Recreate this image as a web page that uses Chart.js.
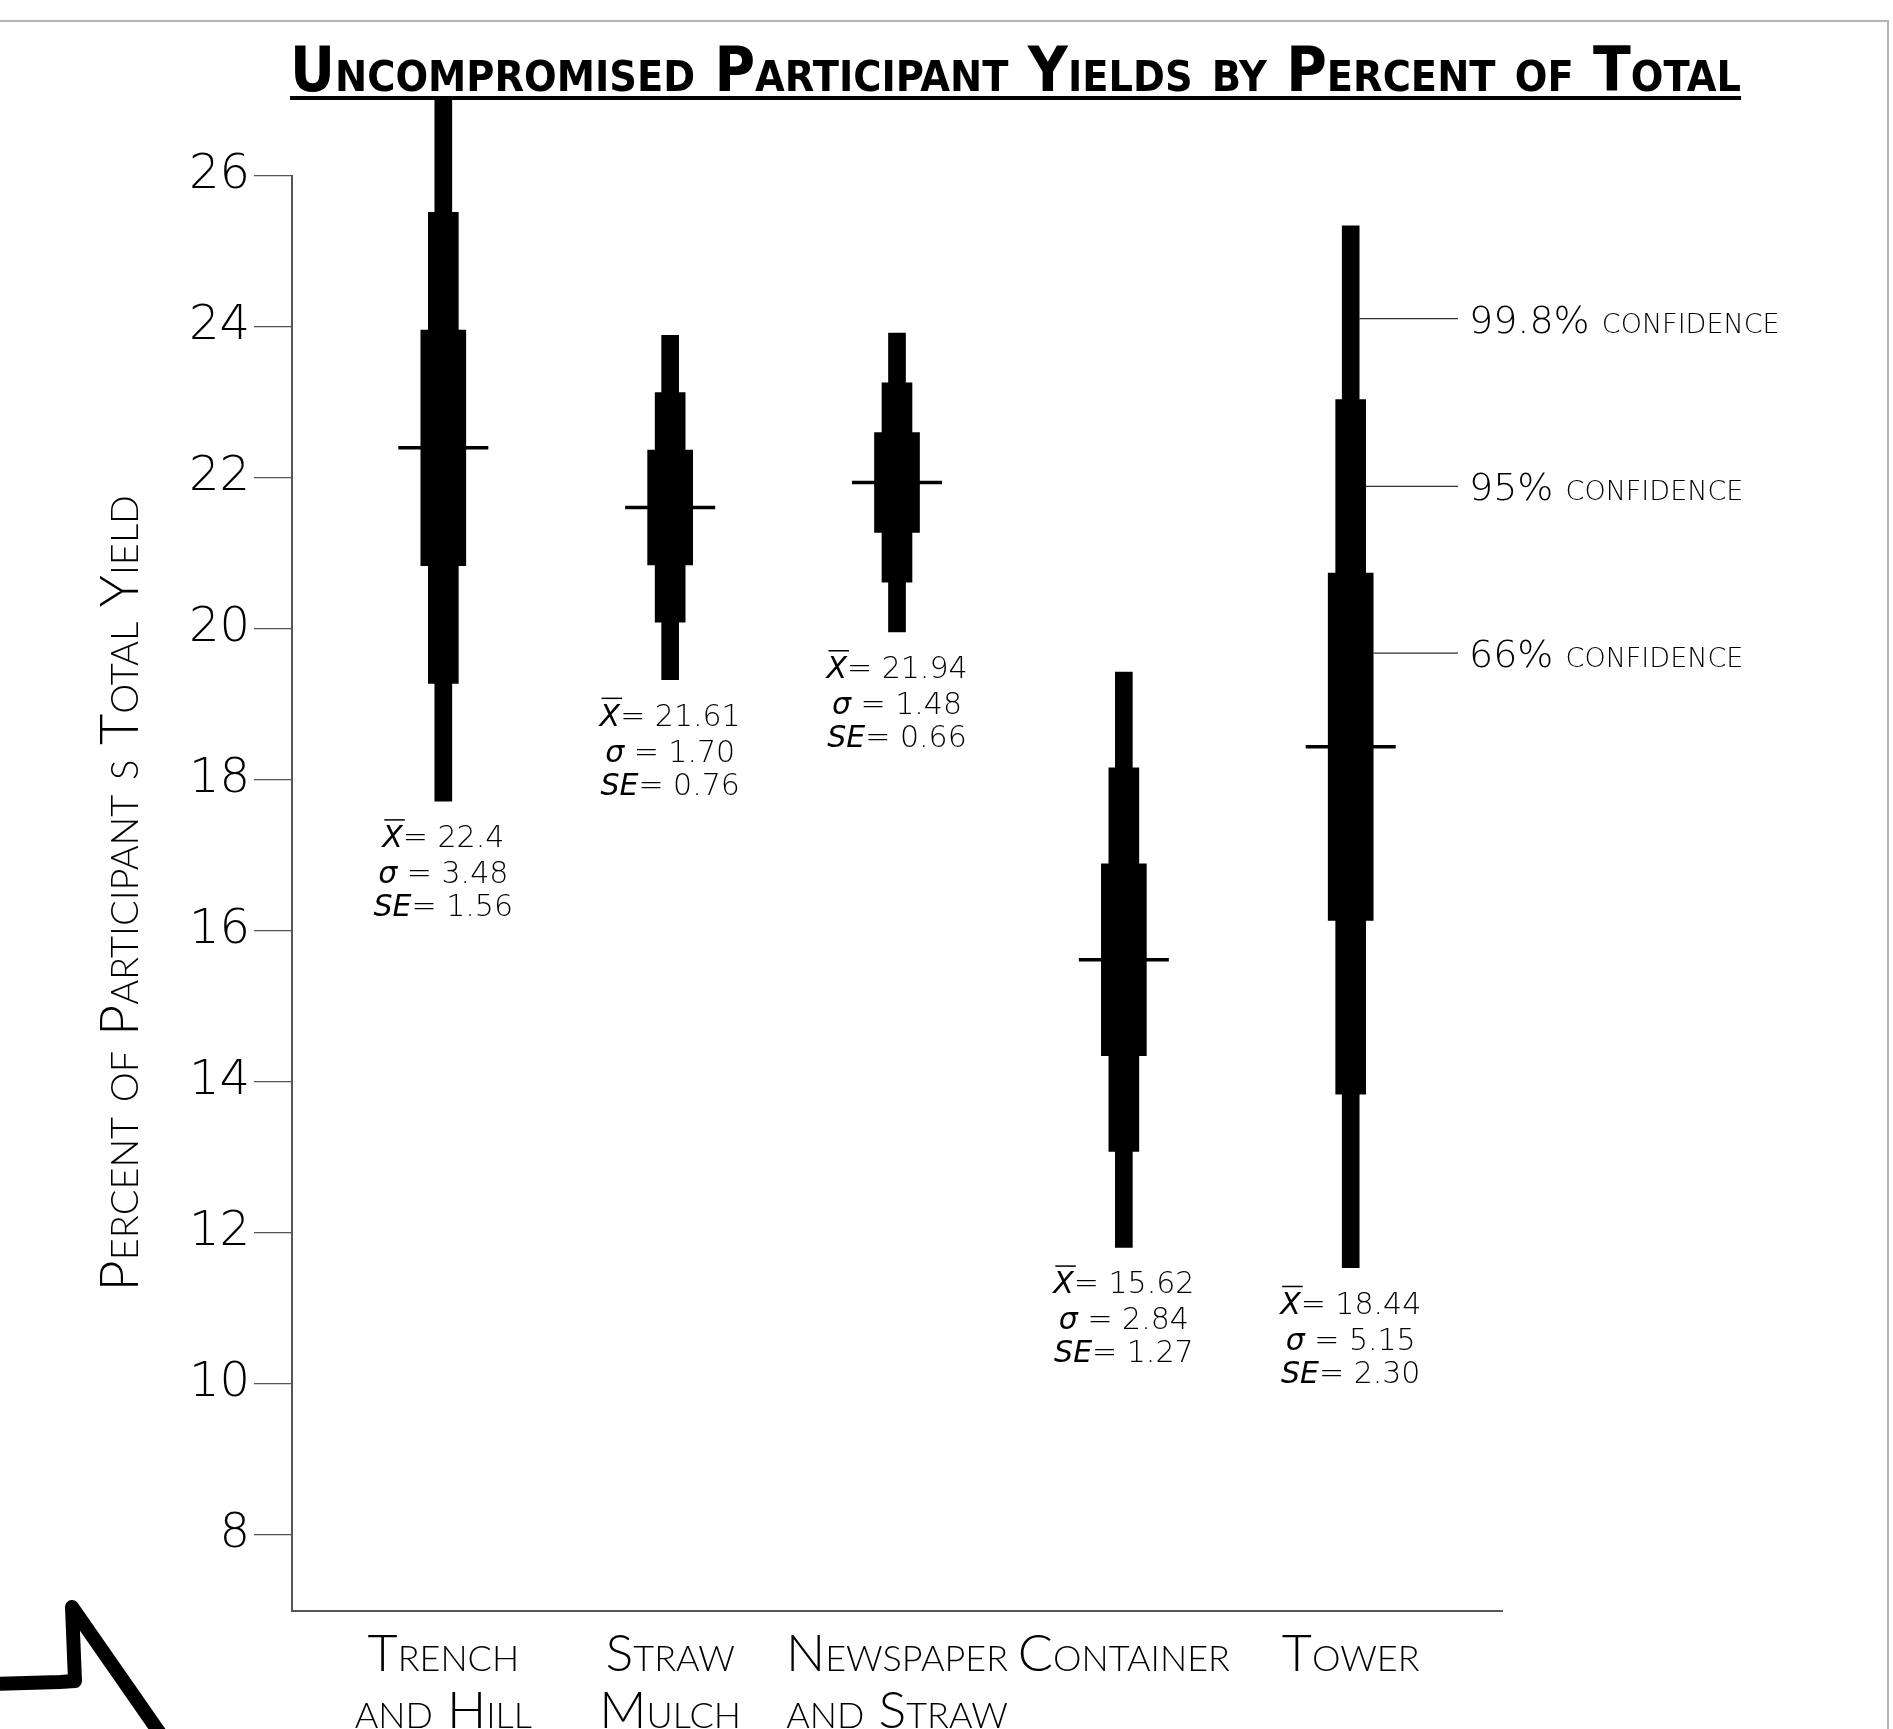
<!DOCTYPE html>
<html>
<head>
<meta charset="utf-8">
<script src="https://cdn.jsdelivr.net/npm/chart.js@4.4.1/dist/chart.umd.min.js"></script>
<style>
  html, body { margin: 0; padding: 0; background: #fff; }
  #wrap { width: 1893px; height: 1729px; position: relative; }
</style>
</head>
<body>
<div id="wrap"><canvas id="yieldChart"></canvas></div>
<script>
// --- Data ---
const categories = [["Trench", "and Hill"], ["Straw", "Mulch"], ["Newspaper", "and Straw"], ["Container"], ["Tower"]];
const means = [22.4, 21.61, 21.94, 15.62, 18.44];
const meanLabels = ["22.4", "21.61", "21.94", "15.62", "18.44"];
const sigmaLabels = ["3.48", "1.70", "1.48", "2.84", "5.15"];
const seLabels = ["1.56", "0.76", "0.66", "1.27", "2.30"];

// confidence bands, low / high ends of each bar
const band66Low = [20.84, 20.85, 21.28, 14.35, 16.14];
const band66High = [23.96, 22.37, 22.60, 16.89, 20.74];
const band95Low = [19.28, 20.09, 20.62, 13.08, 13.84];
const band95High = [25.52, 23.13, 23.26, 18.16, 23.04];
const band998Low = [17.72, 19.33, 19.96, 11.81, 11.54];
const band998High = [27.08, 23.89, 23.92, 19.43, 25.34];

const yTicks = [8, 10, 12, 14, 16, 18, 20, 22, 24, 26];
const confLabels = ["99.8%", "95%", "66%"];
const confValues = [24.11, 21.89, 19.68];

const THIN = "'DejaVu Sans', 'Noto Sans', sans-serif";
const NARROW = "Lato, 'Liberation Sans', sans-serif";
const COND = "'DejaVu Sans', sans-serif";

function bandData(lo, hi) { return lo.map((v, i) => ({ x: i, y: [v, hi[i]] })); }

// --- Text drawing helpers ---
function drawRuns(ctx, runs, cx, yb) {
    let total = 0;
    runs.forEach(r => { ctx.font = r.font; r.w = ctx.measureText(r.t).width; total += r.w; });
    let x = cx - total / 2;
    runs.forEach(r => { ctx.font = r.font; ctx.fillText(r.t, x, yb); r.x = x; x += r.w; });
    return runs;
}

const decorPlugin = {
    id: 'decor',
    afterDraw(chart) {
        const ctx = chart.ctx, xs = chart.scales.x, ys = chart.scales.y;
        ctx.save();

        // frame
        ctx.strokeStyle = '#b4b4b4'; ctx.lineWidth = 2;
        ctx.beginPath(); ctx.moveTo(0, 21); ctx.lineTo(1888, 21); ctx.lineTo(1888, 1729); ctx.stroke();

        // title + underline
        ctx.fillStyle = '#000'; ctx.textAlign = 'left'; ctx.textBaseline = 'alphabetic';
        ctx.font = "small-caps bold 62px " + COND;
        const title = "Uncompromised Participant Yields by Percent of Total";
        const tw = ctx.measureText(title).width;
        ctx.save(); ctx.translate(290, 91); ctx.scale(1451 / tw, 1); ctx.fillText(title, 0, 0); ctx.restore();
        ctx.fillRect(290, 96, 1451, 4);

        // stats under each bar
        const reg = "200 30px " + THIN, ital = "italic 200 30px " + THIN;
        means.forEach((m, i) => {
            const cx = xs.getPixelForValue(i);
            const base = ys.getPixelForValue(band998Low[i]);
            const r1 = drawRuns(ctx, [{ t: 'X', font: ital }, { t: '= ' + meanLabels[i], font: reg }], cx, base + 46);
            ctx.fillRect(r1[0].x + 2, base + 46 - 28, r1[0].w, 1.5);
            drawRuns(ctx, [{ t: '\u03C3', font: ital }, { t: ' = ' + sigmaLabels[i], font: reg }], cx, base + 82);
            drawRuns(ctx, [{ t: 'SE', font: ital }, { t: '= ' + seLabels[i], font: reg }], cx, base + 115);
        });

        // confidence call-outs on the last bar
        const last = means.length - 1, tx = xs.getPixelForValue(last);
        const widths = [chart.data.datasets[3].barThickness, chart.data.datasets[2].barThickness, chart.data.datasets[1].barThickness];
        confLabels.forEach((lab, k) => {
            const py = ys.getPixelForValue(confValues[k]);
            ctx.strokeStyle = '#333'; ctx.lineWidth = 1.2;
            ctx.beginPath(); ctx.moveTo(tx + widths[k] / 2, py); ctx.lineTo(1458, py); ctx.stroke();
            ctx.font = "small-caps 200 38px " + THIN;
            ctx.fillText(lab + ' confidence', 1469, py + 14);
        });

        // corner squiggle
        ctx.strokeStyle = '#000'; ctx.lineWidth = 14; ctx.lineJoin = 'round'; ctx.lineCap = 'round';
        ctx.beginPath(); ctx.moveTo(-10, 1684); ctx.lineTo(60, 1682); ctx.lineTo(75, 1681);
        ctx.lineTo(72, 1607); ctx.lineTo(175, 1755); ctx.stroke();

        ctx.restore();
    }
};

new Chart(document.getElementById('yieldChart'), {
    type: 'bar',
    data: {
        datasets: [
            { type: 'scatter', label: 'Mean', data: means.map((m, i) => ({ x: i, y: m })),
              pointStyle: 'line', pointRadius: 45, pointBorderWidth: 3.5, pointBorderColor: '#000', showLine: false },
            { label: '66% confidence', data: bandData(band66Low, band66High), backgroundColor: '#000', barThickness: 45, grouped: false },
            { label: '95% confidence', data: bandData(band95Low, band95High), backgroundColor: '#000', barThickness: 30, grouped: false },
            { label: '99.8% confidence', data: bandData(band998Low, band998High), backgroundColor: '#000', barThickness: 17, grouped: false,
              clip: { left: 0, top: 76, right: 0, bottom: 0 } }
        ]
    },
    options: {
        responsive: true, maintainAspectRatio: false, animation: false,
        layout: { padding: { top: 176, right: 391, bottom: 0, left: 0 } },
        plugins: { legend: { display: false }, tooltip: { enabled: false } },
        scales: {
            x: {
                type: 'linear', min: -0.667, max: 4.667, offset: false,
                afterBuildTicks: s => { s.ticks = categories.map((c, i) => ({ value: i })); },
                afterFit: s => { s.height = 118.5; },
                grid: { display: false, offset: false },
                border: { display: true, color: '#555', width: 2 },
                ticks: { autoSkip: false, maxRotation: 0, padding: 8, color: '#000',
                         // weight string carries the small-caps variant into the canvas font
                         font: { family: NARROW, size: 52, weight: 'small-caps 300', lineHeight: 1.08 },
                         callback: v => categories[v] }
            },
            y: {
                min: 7, max: 26, beginAtZero: false,
                afterBuildTicks: s => { s.ticks = yTicks.map(v => ({ value: v })); },
                afterFit: s => { s.width = 292; },
                grid: { drawOnChartArea: false, tickLength: 38, color: '#555', lineWidth: 1.2 },
                border: { color: '#555', width: 2 },
                ticks: { padding: 4, color: '#000', font: { family: THIN, size: 48, weight: 200 } },
                title: { display: true, text: 'Percent of Participant s Total Yield', color: '#000',
                         font: { family: NARROW, size: 54, weight: 'small-caps 300' }, padding: { top: 88, bottom: 0 } }
            }
        }
    },
    plugins: [decorPlugin]
});
</script>
</body>
</html>
